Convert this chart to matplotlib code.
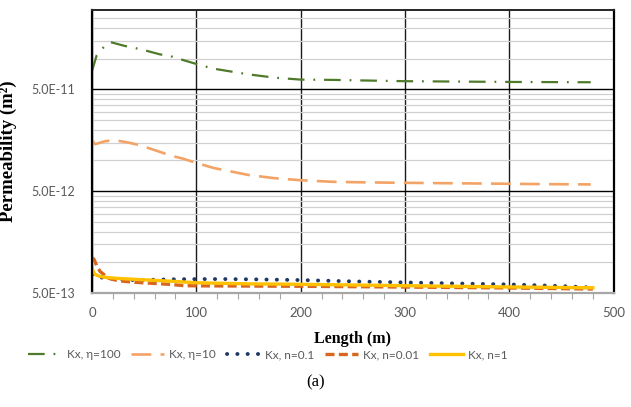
import matplotlib
matplotlib.use("Agg")
import matplotlib.pyplot as plt
from matplotlib import ticker
import numpy as np

# ---- data ----
len_eta100 = [0, 4.5, 10.8, 17.3, 31.6, 41.2, 50.8, 65.2, 74.8, 82.7, 98.8, 116, 150, 175, 200, 231, 260, 300, 350, 400, 440, 478]
k_eta100 = [7.55e-11, 1.08e-10, 1.28e-10, 1.455e-10, 1.33e-10, 1.27e-10, 1.205e-10, 1.10e-10, 1.06e-10, 1.0e-10,
            8.93e-11, 7.98e-11, 7.0e-11, 6.5e-11, 6.22e-11, 6.18e-11, 6.1e-11, 6.0e-11, 5.95e-11, 5.9e-11, 5.88e-11, 5.86e-11]

len_eta10 = [0, 2.9, 12.5, 22, 34.8, 46, 60.4, 76.4, 86, 98.8, 116.3, 150, 175, 199, 231, 260, 302, 350, 401, 440, 478]
k_eta10 = [1.58e-11, 1.445e-11, 1.545e-11, 1.58e-11, 1.50e-11, 1.41e-11, 1.26e-11, 1.11e-11, 1.05e-11, 9.55e-12,
           8.45e-12, 7.2e-12, 6.7e-12, 6.41e-12, 6.17e-12, 6.1e-12, 6.03e-12, 5.97e-12, 5.9e-12, 5.85e-12, 5.82e-12]

len_n01 = [0, 4.5, 15, 25, 41, 60, 80, 100, 130, 160, 200, 250, 300, 350, 400, 450, 480]
k_n01 = [7.6e-13, 7.2e-13, 6.97e-13, 6.8e-13, 6.7e-13, 6.75e-13, 6.82e-13, 6.85e-13, 6.85e-13, 6.8e-13,
         6.7e-13, 6.5e-13, 6.35e-13, 6.2e-13, 6.07e-13, 5.85e-13, 5.65e-13]

len_n001 = [0, 2, 5, 8, 16, 25, 41, 73, 89, 100, 200, 300, 400, 480]
k_n001 = [1.11e-12, 1.07e-12, 9.0e-13, 8.09e-13, 6.97e-13, 6.6e-13, 6.37e-13, 6.09e-13, 5.9e-13, 5.88e-13,
          5.82e-13, 5.72e-13, 5.6e-13, 5.47e-13]

len_n1 = [0, 1, 3, 6, 12, 25, 41, 73, 100, 150, 200, 300, 400, 480]
k_n1 = [9.05e-13, 8.2e-13, 7.63e-13, 7.35e-13, 7.13e-13, 6.95e-13, 6.81e-13, 6.55e-13, 6.3e-13, 6.15e-13,
        6.09e-13, 5.9e-13, 5.73e-13, 5.63e-13]

labels = ["Kx, η=100", "Kx, η=10", "Kx, n=0.1", "Kx, n=0.01", "Kx, n=1"]
y_ticks = [5e-13, 5e-12, 5e-11]
y_tick_labels = ["5.0E-13", "5.0E-12", "5.0E-11"]
x_ticks = [0, 100, 200, 300, 400, 500]

# ---- figure ----
fig = plt.figure(figsize=(6.31, 4.07), dpi=100)
ax = fig.add_axes([92/631, 1-293/407, (613.7-92)/631, (293-10)/407])

gray = "#595959"
ax.plot(len_eta100, k_eta100, color="#4E7A2A", lw=1.6, linestyle=(0, (7.5, 4, 0.8, 4)), label=labels[0])
ax.plot(len_eta10, k_eta10, color="#F4A366", lw=1.9, linestyle=(0, (7.5, 3.5)), label=labels[1])
ax.plot(len_n01, k_n01, color="#203864", lw=2.8, linestyle=(0, (0.05, 2.6)), dash_capstyle="round", label=labels[2])
ax.plot(len_n001, k_n001, color="#D9661F", lw=2.4, linestyle=(0, (2.7, 1.3)), label=labels[3])
ax.plot(len_n1, k_n1, color="#FFC000", lw=2.4, label=labels[4])

ax.set_yscale("log")
ax.set_ylim(5e-13, 3e-10)
ax.set_xlim(0, 500)

ax.yaxis.set_major_locator(ticker.FixedLocator(y_ticks))
ax.yaxis.set_major_formatter(ticker.FixedFormatter(y_tick_labels))
minor_y = [k * base for base in (5e-13, 5e-12, 5e-11) for k in range(2, 10) if k * base < 3e-10]
ax.yaxis.set_minor_locator(ticker.FixedLocator(minor_y))
ax.yaxis.set_minor_formatter(ticker.NullFormatter())

ax.xaxis.set_major_locator(ticker.FixedLocator(x_ticks))
ax.xaxis.set_minor_locator(ticker.MultipleLocator(20))

ax.grid(which="minor", axis="y", color="#D0D0D0", lw=0.9)
ax.grid(which="major", axis="y", color="#000000", lw=1.0)
ax.grid(which="major", axis="x", color="#1a1a1a", lw=1.0)
ax.set_axisbelow(True)

ax.tick_params(axis="y", which="both", length=0, pad=12, labelsize=9, labelcolor=gray)
ax.tick_params(axis="x", which="major", length=0, pad=10, labelsize=9.5, labelcolor=gray)
ax.tick_params(axis="x", which="minor", length=4, width=0.8, color="#A6A6A6", direction="out")
for lab in ax.get_xticklabels() + ax.get_yticklabels():
    lab.set_fontfamily("Lato")

for s in ["left", "right"]:
    ax.spines[s].set_color("black")
    ax.spines[s].set_linewidth(1.6)
ax.spines["top"].set_color("#262626")
ax.spines["top"].set_linewidth(1.4)
ax.spines["bottom"].set_color("#A6A6A6")
ax.spines["bottom"].set_linewidth(1.6)

ax.set_ylabel("Permeability (m²)", family="Liberation Serif", fontweight="bold", fontsize=13.5)
ax.yaxis.set_label_coords((17 - 92) / 521.7, 0.5)
ax.set_xlabel("Length (m)", family="Liberation Serif", fontweight="bold", fontsize=11.5, labelpad=9)

handles, labs = ax.get_legend_handles_labels()
leg = fig.legend(handles, labs, loc="center", bbox_to_anchor=(268/631, 1-355/407), ncol=5, frameon=False,
                 prop={"family": "Lato", "size": 8.5}, handlelength=2.8, columnspacing=0.9, handletextpad=0.45)
for t in leg.get_texts():
    t.set_color(gray)

fig.text(0.5, 1-382/407, "(a)", ha="center", va="center", family="Liberation Serif", fontsize=12)

fig.savefig("out.png", dpi=100)
